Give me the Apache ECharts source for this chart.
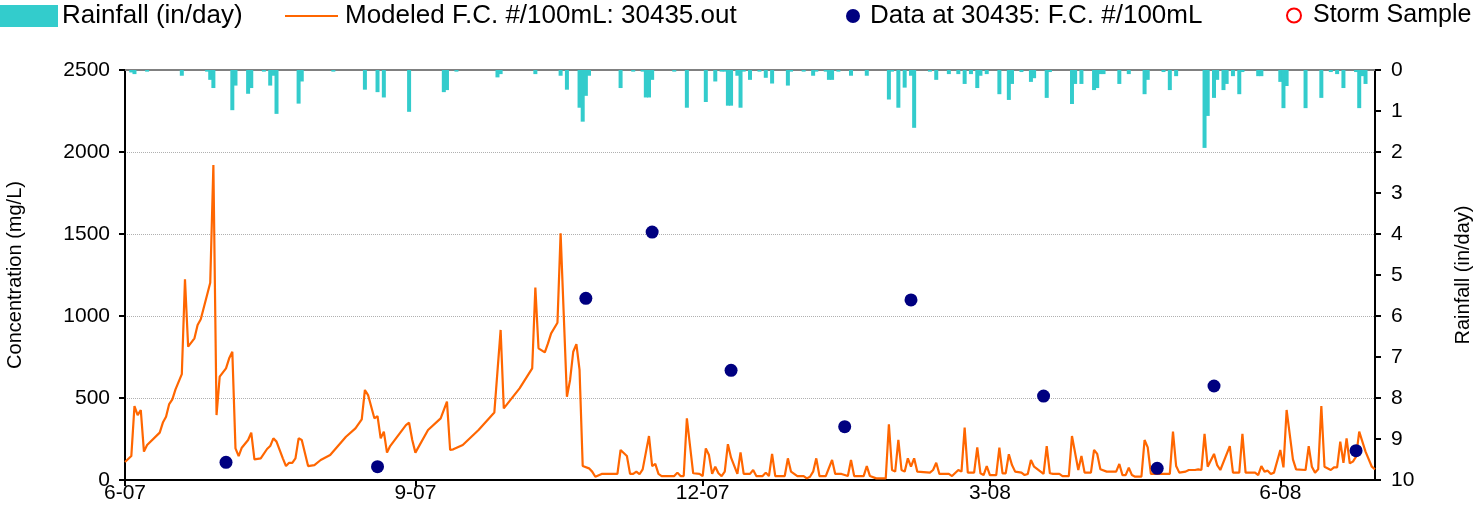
<!DOCTYPE html>
<html><head><meta charset="utf-8">
<script src="https://cdn.jsdelivr.net/npm/echarts@6/dist/echarts.min.js"></script>
<style>html,body{margin:0;padding:0;background:#fff}#c{width:1473px;height:522px}</style>
</head><body><div id="c"></div>
<script>
// Simulation days counted from 1 June 2007
const startYear = 2007, startMonth = 5, startDayOfMonth = 1;
const endDay = 396;
const tickDays = [0, 92, 183, 274, 366];
const tickLabels = ['6-07', '9-07', '12-07', '3-08', '6-08'];

const modeledDay = [0,2,3,4,5,6,7,11,12,13,14,15,16,18,19,20,22,23,24,26,27,28,29,30,32,33,34,35,36,37,39,40,41,43,45,46,47,48,50,51,52,53,54,55,56,58,60,62,65,70,73,75,76,77,79,80,81,82,83,84,89,90,91,92,96,100,102,103,104,107,112,117,119,120,125,129,130,131,133,134,135,137,138,140,141,142,143,144,145,147,148,149,151,156,157,159,160,161,162,163,164,166,167,168,169,170,174,175,176,177,178,180,182,183,184,185,186,187,188,189,190,191,192,194,195,196,198,199,200,202,203,204,205,206,209,210,211,213,215,216,217,218,219,220,222,224,225,227,229,230,231,234,235,236,238,241,242,243,244,245,246,247,248,249,250,251,255,256,257,258,261,262,264,265,266,267,269,270,271,272,273,274,276,277,278,279,280,281,282,284,285,286,287,288,291,292,293,294,296,297,299,300,302,303,304,306,307,308,309,311,314,315,316,317,318,319,320,322,323,324,325,327,331,332,333,334,336,337,339,340,341,342,343,345,346,347,350,351,353,354,355,358,359,360,361,362,363,364,366,367,368,370,371,374,375,376,377,378,379,380,382,383,384,385,386,387,388,389,390,391,393,395,396];
const modeledFC = [110,146,451,396,427,173,213,289,350,386,463,492,553,646,1224,813,864,945,980,1128,1203,1921,396,630,681,742,782,193,146,197,244,289,126,132,189,207,254,234,132,85,105,105,132,254,244,85,91,122,152,264,315,370,549,518,376,390,254,295,167,207,335,350,244,167,305,376,478,183,187,213,305,411,915,437,559,681,1173,803,778,833,894,959,1504,508,610,782,829,671,85,71,51,20,37,37,183,146,37,37,51,35,65,268,85,98,37,24,24,45,24,24,376,41,37,24,193,152,37,81,41,24,51,218,136,37,169,37,37,61,24,24,45,24,159,24,24,132,51,24,24,10,20,51,132,24,24,122,37,37,24,122,24,24,85,24,10,10,340,61,51,244,61,51,132,81,132,51,45,61,105,37,37,24,61,51,319,45,45,199,41,30,85,30,30,197,41,41,157,91,51,45,30,37,122,81,37,207,41,37,37,24,24,268,61,146,45,45,183,159,65,51,51,98,30,30,75,30,20,20,244,199,37,37,37,295,85,45,51,61,61,65,61,281,81,159,91,61,207,45,45,281,45,45,30,85,51,57,37,45,183,77,427,126,65,61,207,81,45,65,451,81,61,77,77,234,105,254,102,112,142,295,173,81,65];

const rainDay = [2,3,7,18,26,27,28,34,35,39,40,44,46,47,48,55,56,66,76,80,82,90,101,102,105,118,119,130,138,140,144,145,146,147,157,161,164,165,166,167,174,178,184,187,189,190,191,192,194,195,196,198,201,203,205,210,211,215,218,219,222,223,224,226,230,235,242,243,245,247,249,250,255,257,261,264,266,268,270,271,273,277,280,281,284,287,288,292,293,300,301,303,307,308,309,310,315,318,323,324,329,331,333,342,343,345,346,348,349,351,353,354,359,360,366,367,368,374,379,382,384,386,390,391,392,393];
const rainIn = [0.06,0.1,0.04,0.14,0.04,0.24,0.44,0.98,0.38,0.58,0.44,0.04,0.38,0.14,1.07,0.82,0.28,0.04,0.48,0.54,0.67,1.02,0.54,0.49,0.04,0.18,0.1,0.1,0.14,0.48,0.92,1.26,0.63,0.14,0.44,0.04,0.04,0.67,0.67,0.24,0.04,0.92,0.78,0.28,0.04,0.04,0.87,0.87,0.14,0.92,0.04,0.24,0.04,0.19,0.33,0.38,0.04,0.04,0.14,0.04,0.04,0.24,0.24,0.04,0.14,0.14,0.72,0.04,0.92,0.43,0.14,1.41,0.04,0.24,0.1,0.1,0.34,0.1,0.44,0.14,0.1,0.59,0.73,0.34,0.05,0.29,0.2,0.68,0.05,0.83,0.34,0.34,0.49,0.44,0.1,0.1,0.34,0.1,0.59,0.24,0.05,0.49,0.15,1.9,1.12,0.68,0.24,0.49,0.34,0.15,0.59,0.05,0.15,0.15,0.29,0.93,0.39,0.93,0.68,0.05,0.1,0.44,0.05,0.93,0.15,0.34];

const obsDay = [32, 80, 146, 167, 192, 228, 249, 291, 327, 345, 390];
const obsFC = [108, 81, 1108, 1512, 669, 325, 1098, 512, 71, 573, 179];

const stormDay = [];
const stormFC = [];

const toMs = d => new Date(startYear, startMonth, startDayOfMonth + d).getTime();
const tickMs = tickDays.map(toMs);
const FONT = 'Liberation Sans, Arial, sans-serif';

const chart = echarts.init(document.getElementById('c'));
const lt = (size, pad) => ({fontSize: size, color: '#000', fontFamily: FONT, padding: [0, 0, 0, pad]});
chart.setOption({
  animation: false,
  backgroundColor: '#fff',
  grid: {left: 125, right: 98, top: 70, bottom: 42, outerBoundsMode: 'none', containLabel: false},
  legend: [
    {data: ['Rainfall (in/day)'], left: 0, top: 3, padding: 0, itemWidth: 58, itemHeight: 22, icon: 'rect', textStyle: lt(26, -1)},
    {data: ['Modeled F.C. #/100mL: 30435.out'], left: 285, top: 3, padding: 0, itemWidth: 53, itemHeight: 2, icon: 'rect', textStyle: lt(26, 2)},
    {data: ['Data at 30435: F.C. #/100mL'], left: 846, top: 3, padding: 0, itemWidth: 14, itemHeight: 14, icon: 'circle', textStyle: lt(26, 5)},
    {data: ['Storm Sample'], left: 1286, top: 3, padding: 0, itemWidth: 14, itemHeight: 14, icon: 'circle', textStyle: lt(25, 7)}
  ],
  xAxis: [{
    type: 'value', min: toMs(0), max: toMs(endDay), position: 'bottom',
    axisLine: {lineStyle: {color: '#000', width: 2}},
    axisTick: {show: true, customValues: tickMs, length: 6, lineStyle: {color: '#000', width: 2}},
    axisLabel: {customValues: tickMs, formatter: v => { const k = tickMs.indexOf(v); return k >= 0 ? tickLabels[k] : ''; }, fontSize: 21, color: '#000', fontFamily: FONT, margin: 3},
    splitLine: {show: false}
  }, {
    type: 'value', min: toMs(0), max: toMs(endDay), position: 'top',
    axisLine: {lineStyle: {color: '#808080', width: 2}},
    axisTick: {show: false}, axisLabel: {show: false}, splitLine: {show: false}
  }],
  yAxis: [{
    type: 'value', min: 0, max: 2500, interval: 500, position: 'left',
    name: 'Concentration (mg/L)', nameLocation: 'middle', nameGap: 100,
    nameTextStyle: {fontSize: 20, color: '#000', fontFamily: FONT},
    axisLine: {show: true, lineStyle: {color: '#000', width: 2}},
    axisTick: {show: true, length: 6, lineStyle: {color: '#000', width: 2}},
    axisLabel: {formatter: v => String(v), fontSize: 21, color: '#000', fontFamily: FONT, margin: 15},
    splitLine: {show: true, lineStyle: {color: '#b0b0b0', type: 'dotted', width: 1}}
  }, {
    type: 'value', min: 0, max: 10, interval: 1, position: 'right', inverse: true,
    name: 'Rainfall (in/day)', nameLocation: 'middle', nameGap: 78,
    nameTextStyle: {fontSize: 20, color: '#000', fontFamily: FONT},
    axisLine: {show: true, lineStyle: {color: '#000', width: 2}},
    axisTick: {show: true, length: 6, lineStyle: {color: '#000', width: 2}},
    axisLabel: {fontSize: 21, color: '#000', fontFamily: FONT, margin: 16},
    splitLine: {show: false}
  }],
  series: [{
    name: 'Rainfall (in/day)', type: 'bar', xAxisIndex: 0, yAxisIndex: 1,
    barWidth: 4, itemStyle: {color: '#33CCCC', opacity: 1},
    data: rainDay.map((d, i) => [toMs(d), rainIn[i]]), z: 3
  }, {
    name: 'Modeled F.C. #/100mL: 30435.out', type: 'line', yAxisIndex: 0,
    showSymbol: false, symbol: 'none', itemStyle: {color: '#FF6600'},
    lineStyle: {color: '#FF6600', width: 2.2},
    data: modeledDay.map((d, i) => [toMs(d), modeledFC[i]]), z: 2
  }, {
    name: 'Data at 30435: F.C. #/100mL', type: 'scatter', yAxisIndex: 0,
    symbolSize: 13, itemStyle: {color: '#000080', opacity: 1},
    data: obsDay.map((d, i) => [toMs(d), obsFC[i]]), z: 4
  }, {
    name: 'Storm Sample', type: 'scatter', yAxisIndex: 0,
    symbolSize: 12, itemStyle: {color: '#fff', borderColor: '#FF0000', borderWidth: 2, opacity: 1},
    data: stormDay.map((d, i) => [toMs(d), stormFC[i]]), z: 4
  }]
});
</script></body></html>
